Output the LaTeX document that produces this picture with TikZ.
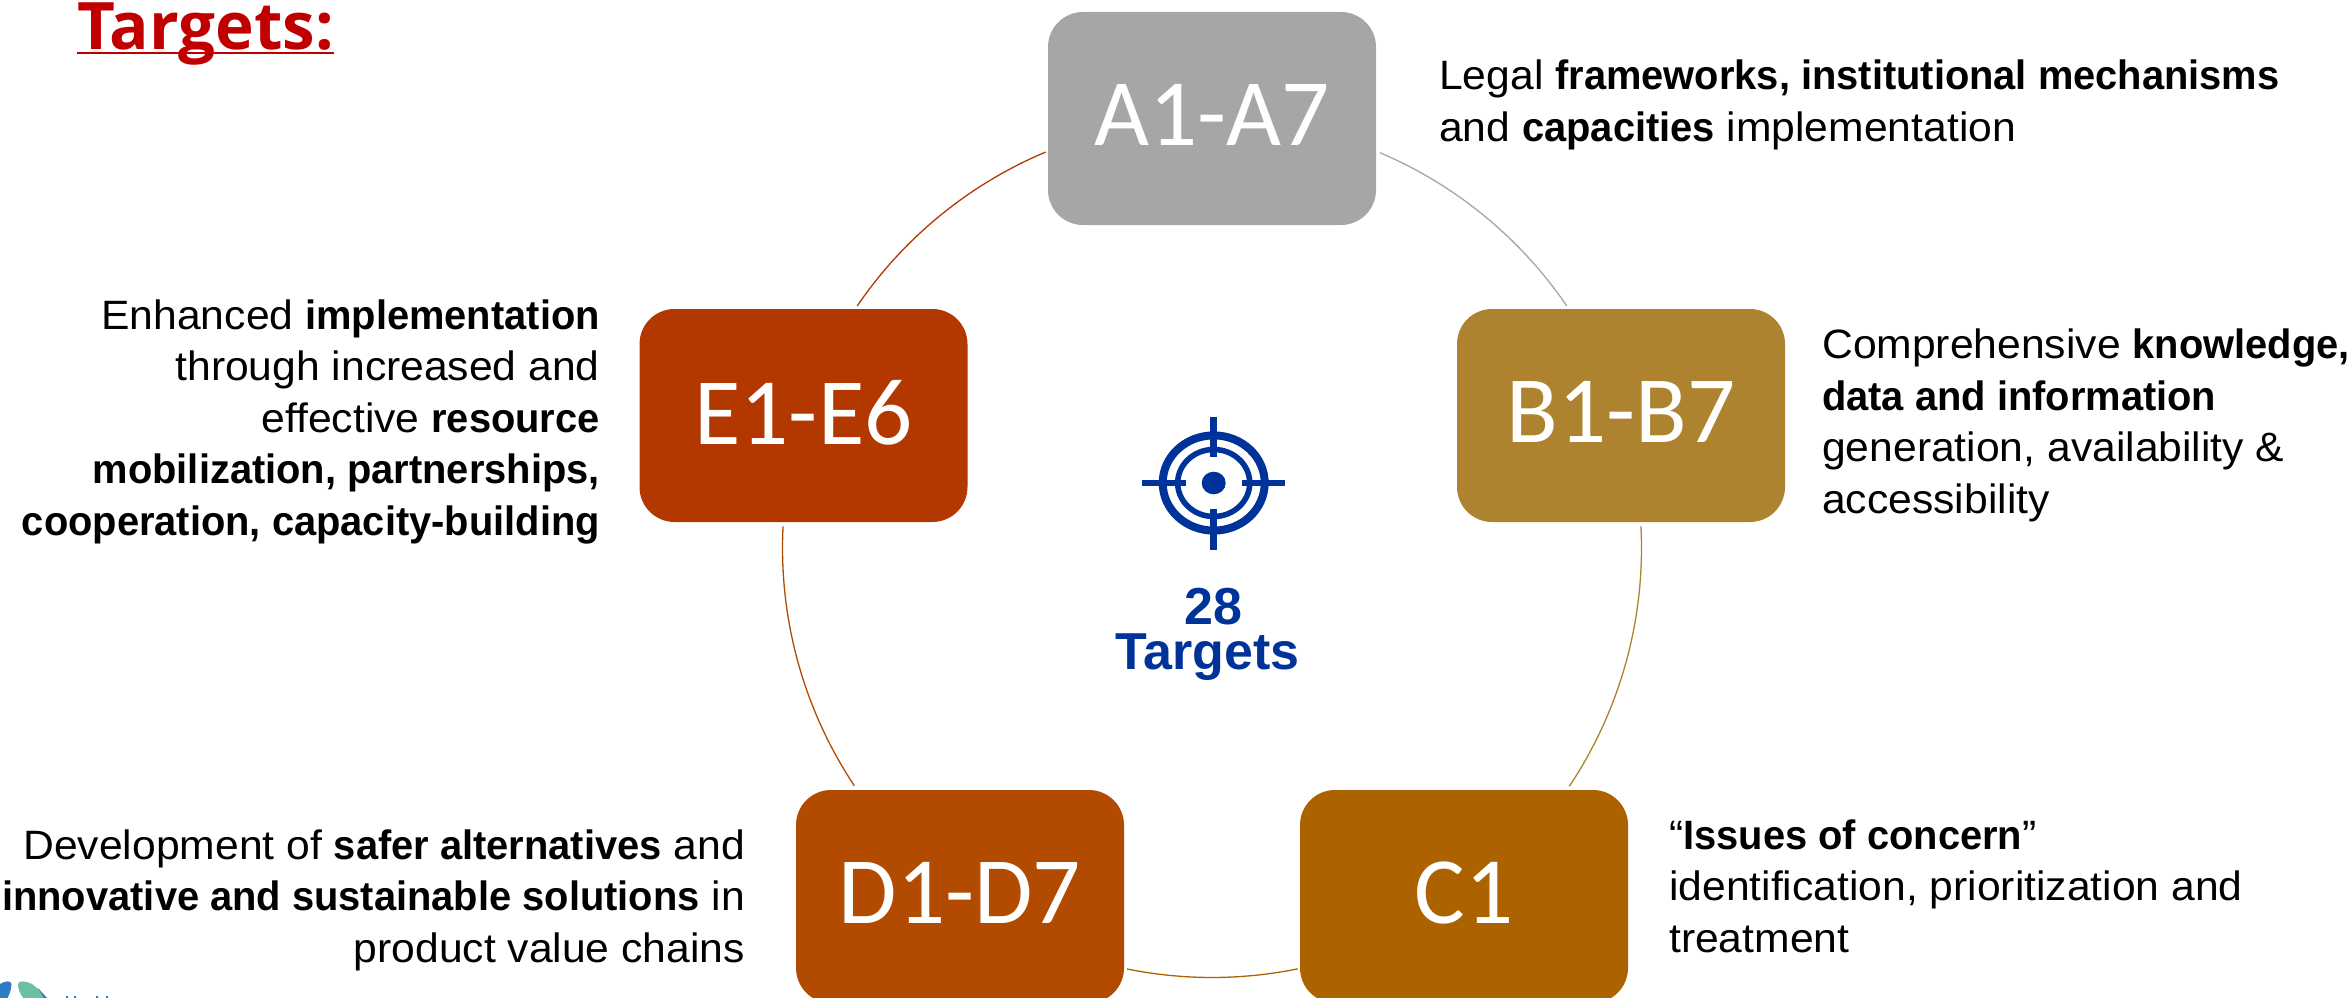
\documentclass[tikz,border=0pt]{standalone}
\usepackage{fontspec}
\setmainfont{Liberation Sans}[FakeStretch=1.04,BoldFeatures={FakeStretch=0.972}]
\newfontfamily\titlefont{Open Sans}
\newfontfamily\boxfont{Carlito}
\newfontfamily\centrefont{Liberation Sans}
\definecolor{cA}{RGB}{166,166,166}
\definecolor{cB}{RGB}{174,131,48}
\definecolor{cC}{RGB}{173,98,0}
\definecolor{cD}{RGB}{178,75,0}
\definecolor{cE}{RGB}{179,56,0}
\definecolor{navy}{RGB}{0,51,153}
\definecolor{titlered}{RGB}{192,0,0}
\definecolor{logoblue}{RGB}{46,125,194}
\definecolor{logogreen}{RGB}{108,191,160}
\tikzset{
  x=1pt,y=-1pt,
  bigbox/.style={draw=none,fill=#1,rounded corners=35pt,minimum width=328pt,minimum height=213pt,inner sep=0pt,text=white,text depth=7pt,font=\boxfont\fontsize{95}{95}\selectfont},
  ring/.style={line width=1.3pt,draw=#1},
  bodyl/.style={inner sep=0pt,anchor=base west,align=left,font=\fontsize{41}{51.5}\selectfont},
  bodyr/.style={inner sep=0pt,anchor=base east,align=right,font=\fontsize{41}{51.5}\selectfont},
  iconline/.style={draw=navy,line width=#1},
}
\begin{document}
\begin{tikzpicture}
\useasboundingbox (0,0) rectangle (2351,998);
% title
\node[inner sep=0pt,anchor=base west,text=titlered,font=\titlefont\bfseries\fontsize{65.5}{66}\selectfont] (title) at (77,50) {Targets:};
\draw[titlered,line width=2pt] ([yshift=-3.5pt]title.base west) -- ([yshift=-3.5pt]title.base east);
% boxes
\node[bigbox=cA] (A) at (1212,118.5) {A1-A7};
\node[bigbox=cB] (B) at (1621,415.5) {B1-B7};
\node[bigbox=cC] (C) at (1464,896.5) {C1};
\node[bigbox=cD] (D) at (960,896.5) {D1-D7};
\node[bigbox=cE] (E) at (803.5,415.5) {E1-E6};
% ring segments
\coordinate (O) at (1212,548);
\coordinate (ab) at ([shift={(66.96:429.5pt)}]O);
\coordinate (bc) at ([shift={(2.9:429.5pt)}]O);
\coordinate (cd) at ([shift={(-78.5:429.5pt)}]O);
\coordinate (de) at ([shift={(213.6:429.5pt)}]O);
\coordinate (ea) at ([shift={(145.7:429.5pt)}]O);
\draw[ring=cA] (ab) arc[start angle=66.96,end angle=34.3,radius=429.5pt];
\draw[ring=cB] (bc) arc[start angle=2.9,end angle=-33.7,radius=429.5pt];
\draw[ring=cC] (cd) arc[start angle=-78.5,end angle=-101.4,radius=429.5pt];
\draw[ring=cD] (de) arc[start angle=213.6,end angle=177.1,radius=429.5pt];
\draw[ring=cE] (ea) arc[start angle=145.7,end angle=112.8,radius=429.5pt];
% body texts
\node[bodyl] (ta) at (1439,141) {Legal \textbf{frameworks, institutional mechanisms}\\and \textbf{capacities} implementation};
\node[bodyl] (tb) at (1822,513) {Comprehensive \textbf{knowledge,}\\\textbf{data and information}\\generation, availability \&\\accessibility};
\node[bodyl] (tc) at (1669,952) {“\textbf{Issues of concern}”\\identification, prioritization and\\treatment};
\node[bodyr] (td) at (745,962) {Development of \textbf{safer alternatives} and\\\textbf{innovative and sustainable solutions} in\\product value chains};
\node[bodyr] (te) at (600,535) {Enhanced \textbf{implementation}\\through increased and\\effective \textbf{resource}\\\textbf{mobilization, partnerships,}\\\textbf{cooperation, capacity-building}};
% target icon
\coordinate (T) at (1213.7,483);
\draw[iconline=8pt] (T) ellipse[x radius=51,y radius=47.6];
\draw[iconline=5.6pt] (T) ellipse[x radius=36,y radius=33.5];
\fill[navy] (T) ellipse[x radius=12,y radius=11.3];
\draw[iconline=6.8pt] (1142,483) -- (1186,483);
\draw[iconline=6.8pt] (1241.7,483) -- (1285,483);
\draw[iconline=7.3pt] (1213.7,416.7) -- (1213.7,456.7);
\draw[iconline=7.3pt] (1213.7,509) -- (1213.7,549.7);
\node[inner sep=0pt,anchor=base,text=navy,font=\centrefont\bfseries\fontsize{52}{52}\selectfont] (n28) at (1213.5,624) {28};
\node[inner sep=0pt,anchor=base,text=navy,font=\centrefont\bfseries\fontsize{52}{52}\selectfont] (ntg) at (1207.5,669) {Targets};
% logo fragment
\fill[logoblue] (0,984) .. controls (5,981) and (11,980) .. (11.5,984) .. controls (11.5,990) and (9,995) .. (7,999) -- (0,999) -- cycle;
\fill[logoblue] (38,988) -- (48,999) -- (40,999) -- cycle;
\fill[logogreen] (18,984) .. controls (19,980) and (26,981) .. (32,984) .. controls (37,987) and (42,993) .. (44,999) -- (24,999) .. controls (20,994) and (18,989) .. (18,984) -- cycle;
\fill[logoblue] (66,996) rectangle (68,999) (74,996) rectangle (76,999) (96,996) rectangle (98,999) (106,996) rectangle (108,999);
\end{tikzpicture}
\end{document}
